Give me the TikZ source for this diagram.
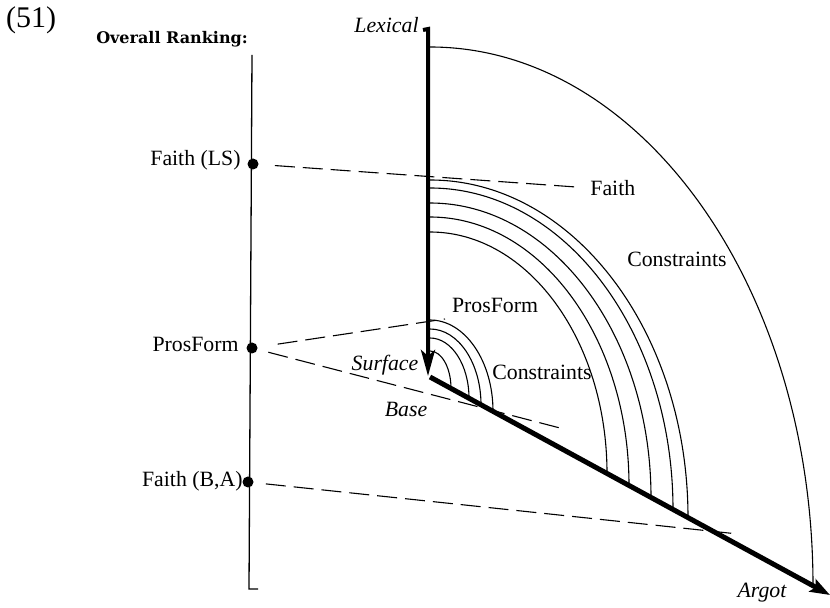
\documentclass[tikz,border=0pt]{standalone}
\usepackage{fontspec}
\setmainfont{Liberation Serif}
\newfontfamily\rankfont{DejaVu Serif}
\usetikzlibrary{arrows.meta, calc}
\tikzset{
    x=0.5pt, y=-0.5pt,
    font=\fontsize{10.9}{13}\selectfont,
    rank_dot/.style={
        circle,
        fill=black,
        inner sep=0pt,
        minimum size=5.5pt
    },
    rank_label/.style={
        inner sep=0pt,
        anchor=east
    },
    arc_label/.style={
        inner sep=0pt
    },
    level_label/.style={
        inner sep=0pt,
        font=\fontsize{10.9}{13}\selectfont\itshape
    },
    dash_link/.style={
        dash pattern=on 10pt off 4pt,
        line width=0.55pt
    },
    con_arc/.style={
        line width=0.55pt
    },
    rank_axis/.style={
        line width=0.65pt
    },
    path_arrow/.style={
        -{Stealth[length=13pt, width=7pt, inset=3pt]},
        line width=2pt
    },
    argot_arrow/.style={
        -{Stealth[length=10pt, width=7pt, inset=2pt]},
        line width=2.5pt
    }
}
% quarter ellipse from a point on the Lexical axis down to the Argot axis
\newcommand{\conarc}[2]{
    \draw[con_arc] (#1) .. controls ($(#1)!0.5523!(#1 -| #2)$) and ($(#2)!0.5523!(#1 -| #2)$) .. (#2);
}

\begin{document}
\begin{tikzpicture}
\useasboundingbox (0,0) rectangle (830,608);

% --- Ranking scale ---
\node (ExNum) at (31,20) {\fontsize{15}{17}\selectfont (51)};
\node (RankTitle) at (172,39) {\fontsize{8}{9}\rankfont\bfseries Overall Ranking:};
\coordinate (RankTop) at (252,55);
\coordinate (RankBot) at (249,589);
\coordinate (RankTick) at (258,589);
\draw[rank_axis] (RankTop) -- (RankBot) -- (RankTick);

\node[rank_dot] (FaithLSDot) at (253,164) {};
\node[rank_dot] (ProsFormDot) at (252,348) {};
\node[rank_dot] (FaithBADot) at (248,482) {};
\node[rank_label] (FaithLS) at (241,160) {Faith (LS)};
\node[rank_label] (ProsFormRank) at (239,344) {ProsForm};
\node[rank_label] (FaithBA) at (243,481) {Faith (B,A)};

% --- Axes ---
\coordinate (LexHook) at (423,30);
\coordinate (LexTop) at (428,29);
\coordinate (SurfTip) at (428,376);
\coordinate (Origin) at (430,377);
\coordinate (ArgotTip) at (830,595);
\draw[path_arrow] (LexHook) -- (LexTop) -- (SurfTip);
\draw[argot_arrow] (Origin) -- (ArgotTip);

\node[level_label, anchor=east] (Lexical) at (419,25) {Lexical};
\node[level_label] (Surface) at (385,365) {Surface};
\node[level_label] (Base) at (406,409) {Base};
\node[level_label] (Argot) at (762,593) {Argot};

% --- Constraint arcs ---
\coordinate (ConTop) at (430,47);
\coordinate (ConFoot) at ($(Origin)!0.9575!(ArgotTip)$);
\conarc{ConTop}{ConFoot}

\foreach \i/\ys/\t in {1/180/0.645, 2/188/0.6075, 3/203/0.5525, 4/217/0.4975, 5/232/0.4425} {
    \coordinate (FaithTop\i) at (430,\ys);
    \coordinate (FaithFoot\i) at ($(Origin)!\t!(ArgotTip)$);
    \conarc{FaithTop\i}{FaithFoot\i}
}

\foreach \i/\ys/\t in {1/320/0.1575, 2/329/0.1275, 3/338/0.0975, 4/351/0.0525} {
    \coordinate (ProsTop\i) at (430,\ys);
    \coordinate (ProsFoot\i) at ($(Origin)!\t!(ArgotTip)$);
    \conarc{ProsTop\i}{ProsFoot\i}
}

\node[arc_label, anchor=west] (FaithLbl) at (590,188) {Faith};
\node[arc_label, anchor=east] (ConOuter) at (727,259) {Constraints};
\node[arc_label] (ProsFormLbl) at (495,305) {ProsForm};
\node[arc_label] (ConInner) at (542,372) {Constraints};

% --- Dashed links ---
\coordinate (ProsHi) at (445,319);
\coordinate (ProsLo) at (560,428);
\coordinate (FaithBAEnd) at (738,534);
\draw[dash_link, shorten <=8pt, shorten >=7pt] (FaithLSDot) -- (FaithLbl.west);
\draw[dash_link, shorten <=10pt] (ProsFormDot) -- (ProsHi);
\draw[dash_link, shorten <=5.5pt] (ProsFormDot) -- (ProsLo);
\draw[dash_link, shorten <=6pt] (FaithBADot) -- (FaithBAEnd);

\end{tikzpicture}
\end{document}
